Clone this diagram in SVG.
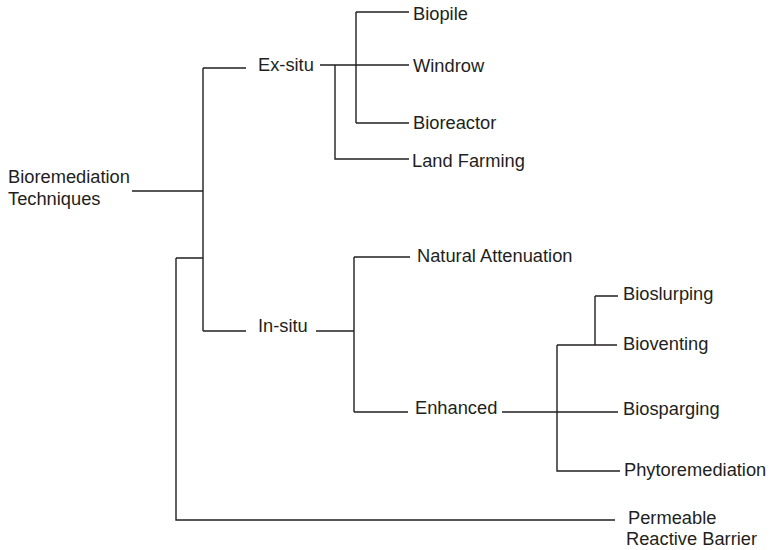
<svg xmlns="http://www.w3.org/2000/svg" width="770" height="550" viewBox="0 0 770 550">
<style>
text{font-family:"Liberation Sans",Arial,sans-serif;font-size:18.3px;fill:#231f20}
.c path{fill:none;stroke:#231f20;stroke-width:1.4}
</style>
<rect width="770" height="550" fill="#fff"/>
<g class="c" id="connectors">
<path d="M132 191H203M203 68V331M203 68H246M203 331H246"/>
<path d="M176 258H203M176 258V520H615"/>
<path d="M320 65H409M335 65V159H409M356 12V123M356 12H409M356 123H409"/>
<path d="M316 331H354M354 257V412M354 257H410M354 412H408"/>
<path d="M502 412H618M557 345V471H620M557 345H617M595 296V345M595 296H618"/>
</g>
<g id="root"><text x="8" y="183">Bioremediation</text><text x="8" y="205">Techniques</text></g>
<g id="exsitu"><text x="258" y="71">Ex-situ</text></g>
<g id="insitu"><text x="258" y="332">In-situ</text></g>
<g id="biopile"><text x="413" y="20">Biopile</text></g>
<g id="windrow"><text x="413" y="72">Windrow</text></g>
<g id="bioreactor"><text x="413" y="129">Bioreactor</text></g>
<g id="landfarming"><text x="412" y="167">Land Farming</text></g>
<g id="natural"><text x="417" y="262">Natural Attenuation</text></g>
<g id="enhanced"><text x="415" y="414">Enhanced</text></g>
<g id="bioslurping"><text x="623" y="300">Bioslurping</text></g>
<g id="bioventing"><text x="623" y="350">Bioventing</text></g>
<g id="biosparging"><text x="623" y="415">Biosparging</text></g>
<g id="phyto"><text x="624" y="476">Phytoremediation</text></g>
<g id="prb"><text x="628" y="524">Permeable</text><text x="626" y="545">Reactive Barrier</text></g>
</svg>
